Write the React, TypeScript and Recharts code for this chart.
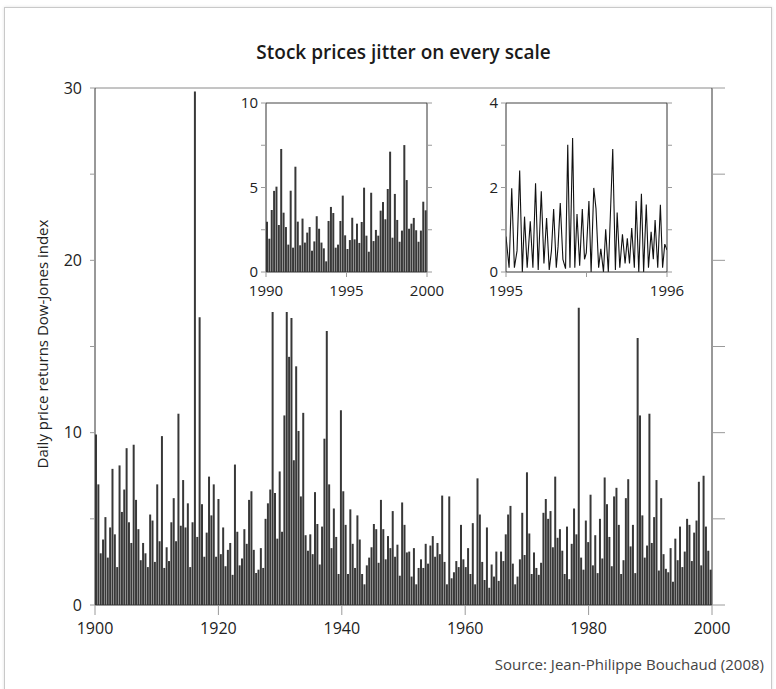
import React from 'react';
import { BarChart, Bar, LineChart, Line, XAxis, YAxis, ReferenceLine } from 'recharts';

// Daily price returns of the Dow-Jones index, 1900-2000 (one bar per sampled period)
const mainReturns = [
  9.9, 7.0, 3.0, 3.8, 5.1, 2.75, 4.5, 7.9, 4.1, 2.2, 8.1, 5.4, 6.7, 9.1, 4.8, 3.6, 9.3, 6.1, 4.4, 2.6, 3.6, 3.0,
  2.2, 5.25, 4.9, 2.5, 7.0, 3.7, 9.8, 2.15, 3.35, 2.55, 4.8, 6.2, 3.7, 11.1, 4.6, 7.25, 4.5, 5.9, 2.2, 4.8, 29.8, 3.95,
  16.7, 5.85, 2.8, 4.2, 7.45, 5.2, 7.0, 2.8, 6.15, 2.95, 4.5, 2.25, 3.2, 3.6, 1.75, 8.15, 4.25, 2.3, 2.7, 4.4, 3.55, 6.1,
  6.6, 3.2, 1.85, 2.05, 3.3, 2.15, 5.0, 5.9, 6.7, 17.0, 6.5, 3.85, 7.75, 4.25, 11.0, 17.0, 14.4, 16.65, 8.4, 13.85, 10.1, 6.3,
  11.15, 4.05, 3.15, 4.1, 2.95, 6.55, 4.7, 2.35, 4.55, 9.65, 15.9, 7.0, 3.3, 5.6, 3.95, 1.8, 11.3, 6.6, 4.65, 1.8, 5.55, 3.55,
  2.15, 5.2, 3.8, 1.8, 1.2, 2.3, 2.75, 3.35, 4.7, 4.4, 2.45, 6.1, 4.4, 2.65, 4.0, 3.3, 5.45, 2.8, 3.5, 1.7, 5.95,
  4.65, 3.05, 3.1, 1.65, 3.3, 1.2, 2.15, 2.65, 2.15, 3.55, 2.4, 3.45, 4.0, 2.8, 3.6, 2.95, 6.35, 2.5, 1.2, 6.3, 1.55, 1.9,
  2.55, 2.2, 4.65, 2.65, 2.2, 3.3, 1.8, 4.75, 1.2, 7.35, 5.25, 2.5, 1.45, 4.5, 1.0, 2.35, 1.65, 3.1, 1.4, 3.1, 2.55, 4.1,
  5.25, 5.75, 2.4, 1.2, 1.65, 2.65, 5.35, 2.9, 7.7, 4.15, 1.8, 3.05, 2.15, 1.75, 2.45, 5.35, 6.15, 5.0, 5.45, 3.35, 7.45, 3.9,
  4.4, 3.15, 1.8, 4.55, 1.5, 3.55, 5.6, 4.1, 17.25, 2.75, 2.05, 4.9, 3.65, 6.4, 2.3, 4.05, 1.85, 5.0, 2.7, 7.4, 5.85, 3.95,
  2.25, 6.3, 6.8, 4.65, 1.8, 2.6, 6.2, 7.3, 3.4, 4.65, 1.85, 15.5, 11.0, 5.2, 2.75, 3.45, 11.1, 3.6, 5.1, 7.25, 2.0, 6.2,
  2.95, 2.1, 1.9, 3.3, 1.35, 3.85, 2.6, 4.55, 2.2, 3.1, 5.0, 4.65, 2.55, 4.2, 4.9, 7.15, 2.3, 7.5, 4.55, 3.15, 2.05,
];
const mainYears = [1900, 2000];
const mainYearTicks = [1900, 1920, 1940, 1960, 1980, 2000];
const mainValueTicks = [0, 5, 10, 15, 20, 25, 30];

// Zoom on 1990-2000
const decadeReturns = [
  2.98, 1.97, 3.67, 4.8, 5.05, 2.78, 7.28, 3.51, 2.66, 1.62, 4.81, 1.44, 6.23, 2.98, 1.58, 3.16, 1.74,
  2.33, 2.66, 1.26, 1.81, 3.3, 2.56, 1.74, 1.4, 0.63, 3.02, 3.85, 3.49, 1.44, 1.62, 3.02, 4.52, 2.17,
  1.36, 1.89, 3.21, 1.93, 2.86, 1.72, 2.96, 4.99, 2.15, 1.2, 4.69, 1.83, 2.49, 2.15, 3.63, 4.14, 3.12,
  4.91, 7.12, 2.03, 4.62, 3.08, 1.79, 2.45, 7.51, 5.44, 2.56, 2.86, 3.2, 2.47, 1.79, 2.45, 4.16, 3.65,
];
const decadeYears = [1990, 2000];
const decadeYearTicks = [1990, 1995, 2000];
const decadeValueTicks = [0, 2.5, 5, 7.5, 10];

// Zoom on 1995 (day of year, return)
const yearDays = [
  0, 7, 13, 19, 25, 31, 37, 42, 48, 55, 61, 67, 73, 80, 86, 92, 98, 103, 108, 114, 118, 123, 129, 135, 140,
  145, 151, 156, 161, 167, 173, 178, 182, 188, 193, 199, 204, 210, 215, 221, 226, 232, 242, 248, 252, 258,
  264, 270, 275, 280, 285, 291, 295, 301, 307, 312, 318, 323, 329, 334, 338, 344, 350, 355, 360, 365,
];
const yearReturns = [
  0.84, 0.1, 1.98, 0.1, 0.5, 2.4, 0.0, 1.31, 0.1, 1.2, 0.1, 2.1, 0.05, 1.91, 0.2, 1.28, 0.05, 0.5, 1.49, 0.1,
  0.6, 1.63, 0.3, 0.08, 3.01, 0.1, 3.17, 0.1, 1.37, 0.15, 1.49, 0.3, 0.45, 1.68, 0.0, 1.99, 1.5, 0.1, 0.55,
  0.0, 1.01, 0.0, 2.91, 0.05, 1.41, 0.1, 0.89, 0.2, 0.8, 0.2, 1.04, 0.1, 1.68, 0.0, 1.85, 0.0, 1.6, 0.1,
  0.95, 0.3, 1.23, 0.1, 1.59, 0.1, 0.66, 0.52,
];
const yearTickDays = [0, 182.5, 365];
const yearTickLabels = ['1995', '', '1996'];
const yearValueTicks = [0, 1, 2, 3, 4];

const FONT = '"Open Sans", sans-serif';
const INK = '#222';
const TICK_GREY = '#9a9a9a';
const BAR_FILL = '#383838';

// each sample sits in the middle of its own slice of the period
const toPeriods = (values: number[], [from, to]: number[]) =>
  values.map((v, i) => ({ t: from + ((i + 0.5) * (to - from)) / values.length, v }));

const mainData = toPeriods(mainReturns, mainYears);
const decadeData = toPeriods(decadeReturns, decadeYears);
const yearData = yearDays.map((d, i) => ({ d, v: yearReturns[i] }));

const tickText = (size: number) => ({ fill: INK, fontSize: size, fontFamily: FONT });
const blank = () => '';

function MainChart() {
  return (
    <BarChart
      width={776}
      height={689}
      data={mainData}
      margin={{ top: 88, right: 44, bottom: 44, left: 35 }}
      barCategoryGap={0}
    >
      <XAxis
        dataKey="t"
        type="number"
        domain={mainYears}
        ticks={mainYearTicks}
        allowDataOverflow
        height={40}
        tickSize={10}
        tickMargin={8}
        tick={tickText(16)}
        tickLine={{ stroke: TICK_GREY }}
        axisLine={{ stroke: '#333' }}
      />
      <YAxis
        domain={[0, 30]}
        ticks={mainValueTicks}
        allowDataOverflow
        width={60}
        tickSize={5}
        tickMargin={8}
        tickFormatter={(v: number) => (v % 10 === 0 ? String(v) : '')}
        tick={tickText(16)}
        tickLine={{ stroke: TICK_GREY }}
        axisLine={{ stroke: '#333' }}
      />
      <YAxis
        yAxisId="right"
        orientation="right"
        domain={[0, 30]}
        ticks={mainValueTicks}
        allowDataOverflow
        width={20}
        tickSize={13}
        tickFormatter={blank}
        tickLine={{ stroke: TICK_GREY }}
        axisLine={{ stroke: '#333' }}
      />
      <ReferenceLine y={30} stroke="#8a8a8a" />
      <Bar dataKey="v" fill={BAR_FILL} isAnimationActive={false} />
    </BarChart>
  );
}

function DecadeInset() {
  return (
    <BarChart
      width={230}
      height={235}
      data={decadeData}
      margin={{ top: 18, right: 13, bottom: 8, left: 16 }}
      barCategoryGap={0}
    >
      <XAxis
        dataKey="t"
        type="number"
        domain={decadeYears}
        ticks={decadeYearTicks}
        allowDataOverflow
        height={40}
        tickSize={5}
        tickMargin={8}
        tick={tickText(15)}
        tickLine={{ stroke: TICK_GREY }}
        axisLine={{ stroke: '#333' }}
      />
      <YAxis
        domain={[0, 10]}
        ticks={decadeValueTicks}
        allowDataOverflow
        width={30}
        tickSize={5}
        tickMargin={3}
        tickFormatter={(v: number) => (v % 5 === 0 ? String(v) : '')}
        tick={tickText(15)}
        tickLine={{ stroke: TICK_GREY }}
        axisLine={{ stroke: '#333' }}
      />
      <YAxis
        yAxisId="right"
        orientation="right"
        domain={[0, 10]}
        ticks={decadeValueTicks}
        allowDataOverflow
        width={10}
        tickSize={5}
        tickFormatter={blank}
        tickLine={{ stroke: TICK_GREY }}
        axisLine={{ stroke: '#333' }}
      />
      <ReferenceLine y={10} stroke="#444" />
      <Bar dataKey="v" fill={BAR_FILL} isAnimationActive={false} />
    </BarChart>
  );
}

function YearInset() {
  return (
    <LineChart width={230} height={235} data={yearData} margin={{ top: 18, right: 13, bottom: 8, left: 16 }}>
      <XAxis
        dataKey="d"
        type="number"
        domain={[0, 365]}
        ticks={yearTickDays}
        allowDataOverflow
        height={40}
        tickSize={5}
        tickMargin={8}
        tickFormatter={(d: number) => yearTickLabels[yearTickDays.indexOf(d)] ?? ''}
        tick={tickText(15)}
        tickLine={{ stroke: TICK_GREY }}
        axisLine={{ stroke: '#333' }}
      />
      <YAxis
        domain={[0, 4]}
        ticks={yearValueTicks}
        allowDataOverflow
        width={30}
        tickSize={5}
        tickMargin={3}
        tickFormatter={(v: number) => (v % 2 === 0 ? String(v) : '')}
        tick={tickText(15)}
        tickLine={{ stroke: TICK_GREY }}
        axisLine={{ stroke: '#333' }}
      />
      <YAxis
        yAxisId="right"
        orientation="right"
        domain={[0, 4]}
        ticks={yearValueTicks}
        allowDataOverflow
        width={10}
        tickSize={5}
        tickFormatter={blank}
        tickLine={{ stroke: TICK_GREY }}
        axisLine={{ stroke: '#333' }}
      />
      <ReferenceLine y={4} stroke="#444" />
      <Line
        type="linear"
        dataKey="v"
        stroke="#111"
        strokeWidth={1.1}
        dot={false}
        isAnimationActive={false}
      />
    </LineChart>
  );
}

export default function App() {
  return (
    <div style={{ position: 'absolute', left: 0, top: 0, width: 776, height: 689, background: '#fff', overflow: 'hidden', fontFamily: FONT }}>
      <div
        style={{
          position: 'absolute',
          left: 4,
          top: 7,
          width: 766,
          height: 700,
          border: '1px solid #c9c9c9',
          boxShadow: '0 0 3px rgba(0,0,0,0.12)',
        }}
      />
      <div style={{ position: 'absolute', left: 95, top: 39, width: 617, textAlign: 'center', fontSize: 19, fontWeight: 600, color: '#1a1a1a' }}>
        Stock prices jitter on every scale
      </div>
      <div style={{ position: 'absolute', left: 0, top: 0 }}>
        <MainChart />
      </div>
      <div style={{ position: 'absolute', left: 220, top: 85 }}>
        <DecadeInset />
      </div>
      <div style={{ position: 'absolute', left: 460, top: 85 }}>
        <YearInset />
      </div>
      <div
        style={{
          position: 'absolute',
          left: 42,
          top: 344,
          transform: 'translate(-50%, -50%) rotate(-90deg)',
          whiteSpace: 'nowrap',
          fontSize: 15,
          color: INK,
        }}
      >
        Daily price returns Dow-Jones index
      </div>
      <div style={{ position: 'absolute', right: 12, top: 654, fontSize: 15, color: '#444', whiteSpace: 'nowrap' }}>
        Source: Jean-Philippe Bouchaud (2008)
      </div>
    </div>
  );
}
